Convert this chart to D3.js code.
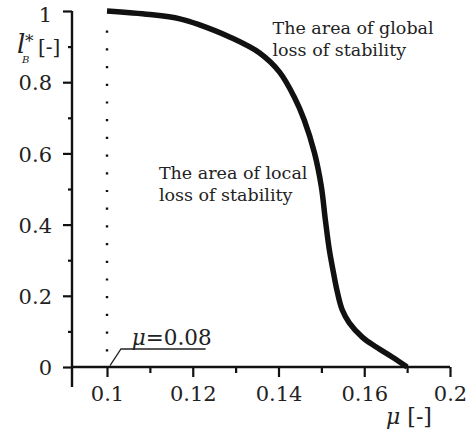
<!DOCTYPE html>
<html>
<head>
<meta charset="utf-8">
<script src="https://cdn.jsdelivr.net/npm/d3@7"></script>
<style>
  body { margin: 0; background: #fff; }
</style>
</head>
<body>
<div id="chart"></div>
<script>
// Curve data: mu vs l_B*
var mu = [0.1, 0.11, 0.117, 0.1216, 0.1286, 0.1356, 0.1402, 0.1437, 0.146, 0.1484, 0.15,
          0.15093, 0.15186, 0.15279, 0.15372, 0.15488, 0.15651, 0.15953, 0.16279, 0.1665, 0.17];
var lb = [1.0, 0.99, 0.978, 0.961, 0.927, 0.882, 0.829, 0.758, 0.694, 0.601, 0.506,
          0.413, 0.329, 0.267, 0.211, 0.160, 0.124, 0.084, 0.056, 0.028, 0.0];

// Ticks
var xTicks = [0.1, 0.12, 0.14, 0.16, 0.18];
var xTickLabels = ["0.1", "0.12", "0.14", "0.16", "0.2"];
var xMinor = [0.11, 0.13, 0.15, 0.17];
var yTicks = [0, 0.2, 0.4, 0.6, 0.8, 1];
var yTickLabels = ["0", "0.2", "0.4", "0.6", "0.8", "1"];
var yMinor = [0.1, 0.3, 0.5, 0.7, 0.9];

// Annotations
var muLimit = 0.1;
var muLimitLabel = "=0.08";
var globalText = ["The area of global", "loss of stability"];
var localText = ["The area of local", "loss of stability"];

var svgWidth = 466;
var svgHeight = 430;
var serif = "'DejaVu Serif', 'Liberation Serif', serif";

var svg = d3.select("#chart")
    .append("svg")
    .attr("width", svgWidth)
    .attr("height", svgHeight)
    .style("font-family", serif);

//Scales
var xScale = d3.scaleLinear()
    .domain([0.1, 0.18])
    .range([107, 450]);

var yScale = d3.scaleLinear()
    .domain([0, 1])
    .range([367, 11]);

var axisX = 72;       // where the y axis sits
var axisY = yScale(0);

//Axes
var yMajor = svg.append("g")
    .attr("transform", `translate(${axisX},0)`)
    .call(d3.axisLeft(yScale).tickValues(yTicks).tickSize(9).tickPadding(11)
        .tickFormat((d, i) => yTickLabels[i]));

var yMin = svg.append("g")
    .attr("transform", `translate(${axisX},0)`)
    .call(d3.axisLeft(yScale).tickValues(yMinor).tickSize(4).tickFormat(""));

var xMajor = svg.append("g")
    .attr("transform", `translate(0,${axisY})`)
    .call(d3.axisBottom(xScale).tickValues(xTicks).tickSize(10)
        .tickFormat((d, i) => xTickLabels[i]));

var xMin = svg.append("g")
    .attr("transform", `translate(0,${axisY})`)
    .call(d3.axisBottom(xScale).tickValues(xMinor).tickSize(6).tickFormat(""));

[yMajor, yMin, xMajor, xMin].forEach(function(g) {
    g.attr("font-family", serif).attr("font-size", null);
    g.select(".domain").remove();
    g.selectAll("line").attr("stroke", "#111").attr("stroke-width", 2.2);
    g.selectAll("text").attr("font-size", 21).attr("fill", "#222")
        .style("font-family", serif);
});

yMajor.selectAll("text").attr("dy", "0.37em");
yMajor.selectAll("text").filter(d => d === 1).attr("dy", "0.5em");
xMajor.selectAll("text").attr("y", 34).attr("dy", 0);

// axis lines
svg.append("line")
    .attr("x1", axisX).attr("x2", axisX)
    .attr("y1", yScale(1)).attr("y2", axisY + 20)
    .attr("stroke", "#111").attr("stroke-width", 2.4);

svg.append("line")
    .attr("x1", axisX).attr("x2", xScale(0.18))
    .attr("y1", axisY).attr("y2", axisY)
    .attr("stroke", "#111").attr("stroke-width", 2.4);

// dotted line at mu = 0.1
svg.append("line")
    .attr("x1", xScale(muLimit)).attr("x2", xScale(muLimit))
    .attr("y1", yScale(0.945)).attr("y2", yScale(0.04))
    .attr("stroke", "#111").attr("stroke-width", 2.4)
    .attr("stroke-dasharray", "2.2 15.5");

// leader line for mu=0.08
var leader = [[0.1007, 0.004], [0.10326, 0.0506], [0.123, 0.0506]];
svg.append("path")
    .attr("d", d3.line().x(d => xScale(d[0])).y(d => yScale(d[1]))(leader))
    .attr("fill", "none")
    .attr("stroke", "#222")
    .attr("stroke-width", 1.3);

var lbl = svg.append("text")
    .attr("x", xScale(0.1058))
    .attr("y", yScale(0.062))
    .attr("fill", "#222")
    .attr("font-size", 21.5);
lbl.append("tspan").attr("font-style", "italic").text("μ");
lbl.append("tspan").text(muLimitLabel);

// curve
var line = d3.line()
    .x((d, i) => xScale(mu[i]))
    .y(d => yScale(d))
    .curve(d3.curveCatmullRom.alpha(0.5));

svg.append("path")
    .attr("d", line(lb))
    .attr("fill", "none")
    .attr("stroke", "#111")
    .attr("stroke-width", 5.5);

// area labels
function block(lines, mx, vy) {
    var t = svg.append("text")
        .attr("x", xScale(mx))
        .attr("y", yScale(vy))
        .attr("fill", "#222")
        .attr("font-size", 17.5);
    lines.forEach(function(s, i) {
        t.append("tspan")
            .attr("x", xScale(mx))
            .attr("dy", i === 0 ? 0 : 22)
            .text(s);
    });
}
block(globalText, 0.1386, 0.935);
block(localText, 0.1121, 0.528);

// y axis title: l_B^* [-]
svg.append("text").attr("x", 17).attr("y", 53).attr("fill", "#222")
    .attr("font-size", 26).attr("font-style", "italic").text("l");
svg.append("text").attr("x", 25).attr("y", 47).attr("fill", "#222")
    .attr("font-size", 17).text("*");
svg.append("text").attr("x", 22).attr("y", 63).attr("fill", "#222")
    .attr("font-size", 10).attr("font-style", "italic").text("B");
svg.append("text").attr("x", 38).attr("y", 54).attr("fill", "#222")
    .attr("font-size", 20).text("[-]");

// x axis title: mu [-]
var xt = svg.append("text").attr("x", 386).attr("y", 424).attr("fill", "#222").attr("font-size", 22);
xt.append("tspan").attr("font-style", "italic").text("μ");
xt.append("tspan").text(" [-]");
</script>
</body>
</html>
